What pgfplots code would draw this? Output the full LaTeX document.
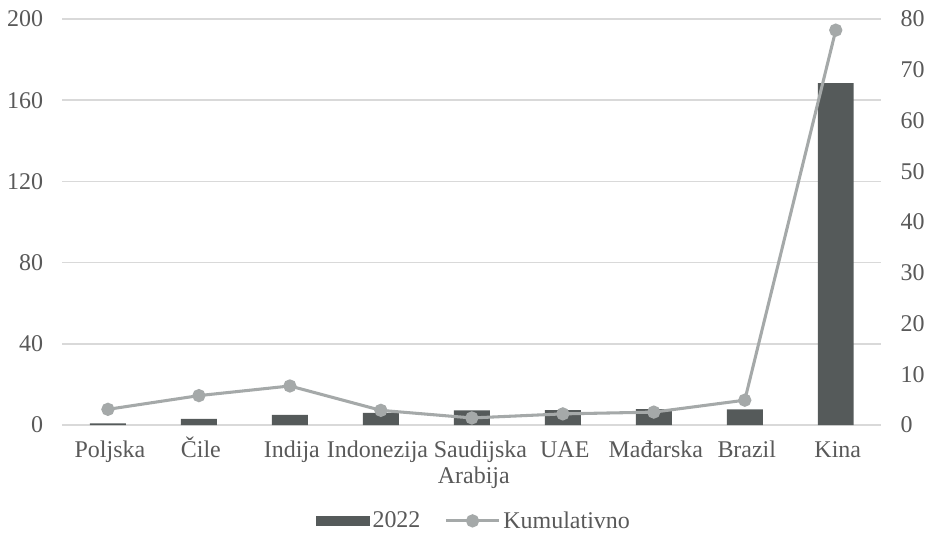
\documentclass[border=0pt]{standalone}
\usepackage{pgfplots}
\pgfplotsset{compat=1.18}
\usepackage{fontspec}
\setmainfont{Liberation Serif}

\definecolor{barcol}{HTML}{555A5A}
\definecolor{linecol}{HTML}{A5A9A9}
\definecolor{gridcol}{HTML}{D9D9D9}
\definecolor{txtcol}{HTML}{595959}

% uniform label height so accented names sit on the same baseline
\newcommand\tl{\rule{0pt}{16pt}}

\pgfplotstableread{
x val cum
0 0.8 3.1
1 3.0 5.8
2 5.0 7.7
3 6.0 2.9
4 7.2 1.4
5 7.4 2.2
6 7.9 2.55
7 7.7 4.9
8 168.4 77.8
}\data

\pgfplotsset{
  common/.style={
    width=615pt, height=305pt, scale only axis,
    xmin=-0.5, xmax=8.5,
    major tick length=0pt,
    tick label style={font=\fontsize{18pt}{19pt}\selectfont, text=txtcol},
    /pgf/number format/assume math mode=true,
    axis line style={draw=none},
  }
}

\begin{document}
\begin{tikzpicture}
\begin{axis}[
  common,
  name=main,
  ymin=0, ymax=200, ytick={0,40,...,200},
  ymajorgrids, grid style={gridcol, line width=1.1pt},
  xtick={0,...,8},
  xticklabels={{\tl Poljska},{\tl Čile},{\tl Indija},{\tl Indonezija\hspace*{8pt}},{\tl\hspace*{10pt}Saudijska\\Arabija},{\tl UAE},{\tl Mađarska},{\tl Brazil},{\tl Kina}},
  xticklabel style={align=center, anchor=north, yshift=-5pt, xshift=1.5pt},
  yticklabel style={anchor=east, xshift=-11pt},
]
\addplot[ybar, bar width=27pt, fill=barcol, draw=none] table[x=x, y=val] {\data};
\end{axis}
\begin{axis}[
  common,
  ymin=0, ymax=80, ytick={0,10,...,80},
  axis y line*=right,
  xtick=\empty,
  yticklabel style={anchor=west, xshift=11pt},
  legend style={at={(0.503,-0.236)}, anchor=center, draw=none, fill=none,
    legend columns=2, font=\fontsize{18pt}{19pt}\selectfont, text=txtcol,
    /tikz/every even column/.append style={column sep=16pt}},
  legend cell align=left,
]
\addlegendimage{legend image code/.code={\fill[barcol] (-10pt,-3.5pt) rectangle (30pt,3.5pt);}}
\addlegendentry{2022}
\addplot[color=linecol, line width=2.3pt, mark=*, mark size=3.8pt,
  legend image code/.code={\draw[linecol, line width=2.3pt] (-10pt,0pt) -- (30pt,0pt);
    \fill[linecol] (10pt,0pt) circle (3.8pt);}]
  table[x=x, y=cum] {\data};
\addlegendentry{Kumulativno}
\end{axis}
% page margins around the plot
\path ([xshift=-46.9pt, yshift=-81.75pt]main.south west) rectangle ([xshift=34.9pt, yshift=14.25pt]main.north east);
\end{tikzpicture}
\end{document}
